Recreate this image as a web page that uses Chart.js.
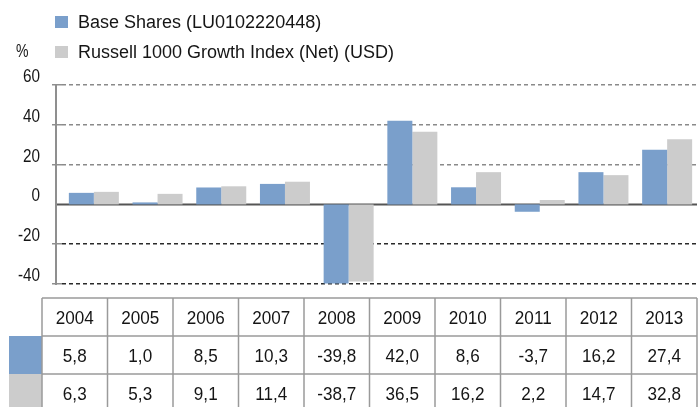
<!DOCTYPE html>
<html>
<head>
<meta charset="utf-8">
<script src="https://cdn.jsdelivr.net/npm/chart.js@4"></script>
<style>
  html, body { margin: 0; padding: 0; background: #fff; }
  #wrap { width: 699px; height: 407px; position: relative; }
</style>
</head>
<body>
<div id="wrap"><canvas id="perfChart"></canvas></div>
<script>
const years = ['2004', '2005', '2006', '2007', '2008', '2009', '2010', '2011', '2012', '2013'];
const baseShares = [5.8, 1.0, 8.5, 10.3, -39.8, 42.0, 8.6, -3.7, 16.2, 27.4];
const russell = [6.3, 5.3, 9.1, 11.4, -38.7, 36.5, 16.2, 2.2, 14.7, 32.8];
const seriesNames = ['Base Shares (LU0102220448)', 'Russell 1000 Growth Index (Net) (USD)'];
const yMin = -40;
const yMax = 60;
const yStep = 20;

const BLUE = '#7a9fcb';
const GREY = '#cccccc';
const INK = '#151515';
const FONT = '"Liberation Sans", Arial, sans-serif';

function fmt(v) {
    return v.toFixed(1).replace('.', ',');
}

// text squeezed horizontally, like the original export
function squeezed(ctx, txt, x, y, sx, align) {
    ctx.save();
    ctx.textAlign = align;
    ctx.scale(sx, 1);
    ctx.fillText(txt, x / sx, y);
    ctx.restore();
}

// legend, "%" label, tick labels, axis line, zero line and data table
const extras = {
    id: 'extras',
    beforeDatasetsDraw(chart) {
        const ctx = chart.ctx;
        const y = chart.scales.y;
        const area = chart.chartArea;
        const zero = y.getPixelForValue(0);
        ctx.save();
        ctx.strokeStyle = '#555';
        ctx.lineWidth = 2;
        ctx.beginPath();
        ctx.moveTo(56, zero);
        ctx.lineTo(area.right - 2, zero);
        ctx.stroke();
        ctx.strokeStyle = '#8f8f8f';
        ctx.beginPath();
        ctx.moveTo(56, area.top);
        ctx.lineTo(56, area.bottom + 1);
        ctx.stroke();
        ctx.restore();
    },
    afterDraw(chart) {
        const ctx = chart.ctx;
        const yScale = chart.scales.y;
        ctx.save();
        ctx.textBaseline = 'middle';
        ctx.fillStyle = INK;

        // legend
        ctx.font = '18px ' + FONT;
        chart.data.datasets.forEach((ds, i) => {
            const cy = 22 + i * 30;
            ctx.fillStyle = ds.backgroundColor;
            ctx.fillRect(55, cy - 6, 13, 12);
            ctx.fillStyle = INK;
            ctx.textAlign = 'left';
            ctx.fillText(ds.label, 78, cy + 1);
        });
        ctx.font = '18px ' + FONT;
        squeezed(ctx, '%', 16, 52, 0.78, 'left');

        // y tick labels
        yScale.ticks.forEach(t => {
            squeezed(ctx, String(t.value), 40, yScale.getPixelForValue(t.value) - 8, 0.85, 'right');
        });

        // table
        const left = 42, right = 697, top = 298, rowH = 38;
        const colW = (right - left) / years.length;
        const rows = [years, baseShares.map(fmt), russell.map(fmt)];

        ctx.fillStyle = BLUE;
        ctx.fillRect(9, top + rowH, left - 9, rowH);
        ctx.fillStyle = GREY;
        ctx.fillRect(9, top + 2 * rowH, left - 9, rowH);

        ctx.strokeStyle = '#9a9a9a';
        ctx.lineWidth = 1.5;
        ctx.beginPath();
        for (let r = 0; r <= rows.length; r++) {
            ctx.moveTo(left, top + r * rowH);
            ctx.lineTo(right, top + r * rowH);
        }
        for (let c = 0; c <= years.length; c++) {
            ctx.moveTo(left + c * colW, top);
            ctx.lineTo(left + c * colW, top + rows.length * rowH);
        }
        ctx.stroke();

        ctx.font = '19px ' + FONT;
        ctx.fillStyle = INK;
        rows.forEach((row, r) => {
            row.forEach((txt, c) => {
                squeezed(ctx, txt, left + c * colW + colW / 2, top + r * rowH + rowH / 2 + 2, 0.9, 'center');
            });
        });
        ctx.restore();
    }
};

new Chart(document.getElementById('perfChart'), {
    type: 'bar',
    data: {
        labels: years,
        datasets: [
            {
                label: seriesNames[0],
                data: baseShares,
                backgroundColor: BLUE,
                categoryPercentage: 0.785,
                barPercentage: 1
            },
            {
                label: seriesNames[1],
                data: russell,
                backgroundColor: GREY,
                categoryPercentage: 0.785,
                barPercentage: 1
            }
        ]
    },
    options: {
        responsive: true,
        maintainAspectRatio: false,
        animation: false,
        layout: {
            padding: { top: 85, bottom: 123, left: 0, right: 0 }
        },
        plugins: {
            legend: { display: false },
            tooltip: { enabled: false }
        },
        scales: {
            x: {
                display: false
            },
            y: {
                min: yMin,
                max: yMax,
                afterFit: scale => { scale.width = 62; },
                border: { display: false, dash: [4, 3] },
                grid: {
                    color: c => c.tick && c.tick.value > 0 ? '#8a8a8a' : '#2a2a2a',
                    tickColor: '#8f8f8f',
                    lineWidth: c => c.tick && c.tick.value === 0 ? 0 : 1.5,
                    tickLength: 10
                },
                ticks: {
                    stepSize: yStep,
                    display: false
                }
            }
        }
    },
    plugins: [extras]
});
</script>
</body>
</html>
